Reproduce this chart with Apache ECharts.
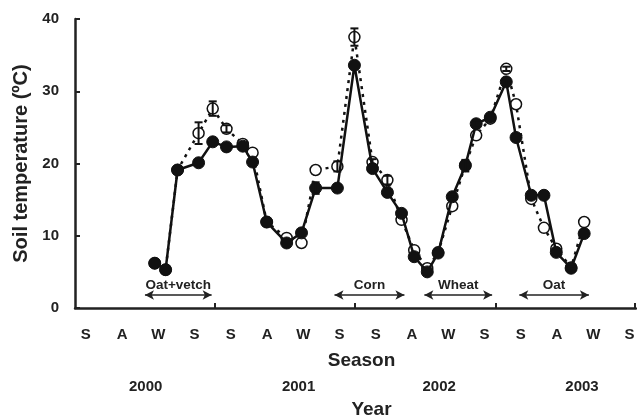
<!DOCTYPE html>
<html>
<head>
<meta charset="utf-8">
<script src="https://cdn.jsdelivr.net/npm/echarts@6/dist/echarts.min.js"></script>
<style>html,body{margin:0;padding:0;background:#fff;}#c{width:637px;height:417px;}</style>
</head>
<body>
<div id="c"></div>
<script>
// Season-label positions (index units) and texts
var seasonPos = [0,1,2,3,4,5,6,7,8,9,10,11,12,13,14,15];
var seasonLabels = ['S','A','W','S','S','A','W','S','S','A','W','S','S','A','W','S'];
var yearPos = [1.65, 5.87, 9.75, 13.69];
var yearLabels = ['2000','2001','2002','2003'];
var yearTickPos = [3.55, 7.41, 11.32, 15.15];

// Sampling positions (in season-index units)
var xPos = [1.90, 2.20, 2.53, 3.11, 3.50, 3.88, 4.33, 4.60, 4.99, 5.54, 5.95, 6.34, 6.94, 7.41, 7.91, 8.32, 8.71, 9.06, 9.42, 9.72, 10.11, 10.47, 10.77, 11.16, 11.60, 11.87, 12.29, 12.64, 12.98, 13.39, 13.75];
// Filled circles (solid line)
var filledVals = [6.2, 5.3, 19.1, 20.1, 23.0, 22.3, 22.4, 20.2, 11.9, 9.0, 10.4, 16.6, 16.6, 33.6, 19.3, 16.0, 13.1, 7.1, 5.0, 7.6, 15.4, 19.7, 25.5, 26.4, 31.3, 23.6, 15.6, 15.6, 7.7, 5.5, 10.3];
var filledErr  = [0, 0, 0, 0, 0, 0, 0, 0, 0, 0, 0, 0.8, 0, 0, 0, 0, 0, 0, 0, 0, 0.3, 0.8, 0.5, 0, 0.5, 0, 0, 0, 0, 0.3, 0];
// Open circles (dashed line)
var openVals = [6.2, 5.3, 19.1, 24.2, 27.6, 24.8, 22.7, 21.5, 11.9, 9.7, 9.0, 19.1, 19.6, 37.5, 20.2, 17.7, 12.2, 8.0, 5.5, 7.7, 14.1, 19.8, 23.9, 26.2, 33.1, 28.2, 15.1, 11.1, 8.2, 5.6, 11.9];
var openErr  = [0, 0, 0, 1.5, 1.0, 0.5, 0, 0, 0, 0, 0, 0, 0.7, 1.2, 0.4, 0.6, 0, 0, 0, 0, 0, 0, 0, 0, 0.3, 0, 0, 0, 0, 0, 0];

// Crop annotations
var crops = ['Oat+vetch', 'Corn', 'Wheat', 'Oat'];
var cropStart = [1.63, 6.86, 9.34, 11.96];
var cropEnd = [3.47, 8.79, 11.21, 13.88];
var cropY = 1.8;

function pairs(xs, ys) { return xs.map(function (x, i) { return [x, ys[i]]; }); }
function errData(xs, ys, es) {
  var out = [];
  xs.forEach(function (x, i) { if (es[i] > 0) out.push([x, ys[i] - es[i], ys[i] + es[i]]); });
  return out;
}
function errRender(params, api) {
  var x = api.value(0);
  var lo = api.coord([x, api.value(1)]);
  var hi = api.coord([x, api.value(2)]);
  var w = 4;
  var st = { stroke: '#111', lineWidth: 2, fill: null };
  return {
    type: 'group',
    children: [
      { type: 'line', shape: { x1: lo[0], y1: lo[1], x2: hi[0], y2: hi[1] }, style: st },
      { type: 'line', shape: { x1: lo[0] - w, y1: lo[1], x2: lo[0] + w, y2: lo[1] }, style: st },
      { type: 'line', shape: { x1: hi[0] - w, y1: hi[1], x2: hi[0] + w, y2: hi[1] }, style: st }
    ]
  };
}

var FONT = 'Liberation Sans, Arial, sans-serif';
var chart = echarts.init(document.getElementById('c'), null, { renderer: 'canvas' });
var markData = crops.map(function (c, i) {
  return [{ coord: [cropStart[i], cropY], name: c }, { coord: [cropEnd[i], cropY] }];
});

chart.setOption({
  animation: false,
  backgroundColor: '#fff',
  grid: { left: 75, right: 1, top: 19, bottom: 109, containLabel: false, outerBoundsMode: 'none' },
  xAxis: [{
    type: 'value', min: -0.3, max: 15.18,
    position: 'bottom',
    name: 'Season', nameLocation: 'middle', nameGap: 43,
    nameTextStyle: { fontFamily: FONT, fontWeight: 'bold', fontSize: 19, color: '#222', padding: [0, 0, 0, 12] },
    axisLine: { show: true, onZero: false, lineStyle: { color: '#222', width: 2.5 } },
    axisTick: { show: true, inside: true, length: 5, lineStyle: { color: '#222', width: 2 }, customValues: yearTickPos },
    splitLine: { show: false },
    axisLabel: {
      customValues: seasonPos, margin: 19,
      fontFamily: FONT, fontWeight: 'bold', fontSize: 15, color: '#222',
      formatter: function (v) { var i = seasonPos.indexOf(v); return i >= 0 ? seasonLabels[i] : ''; }
    }
  }, {
    type: 'value', min: -0.3, max: 15.18,
    position: 'bottom', offset: 63,
    name: 'Year', nameLocation: 'middle', nameGap: 29,
    nameTextStyle: { fontFamily: FONT, fontWeight: 'bold', fontSize: 19, color: '#222', padding: [0, 0, 0, 32] },
    axisLine: { show: false },
    axisTick: { show: false },
    splitLine: { show: false },
    axisLabel: {
      customValues: yearPos, margin: 8,
      fontFamily: FONT, fontWeight: 'bold', fontSize: 15, color: '#222',
      formatter: function (v) { var i = yearPos.indexOf(v); return i >= 0 ? yearLabels[i] : ''; }
    }
  }],
  yAxis: {
    type: 'value', min: 0, max: 40, interval: 10,
    name: 'Soil temperature (ºC)', nameLocation: 'middle', nameGap: 43,
    nameTextStyle: { fontFamily: FONT, fontWeight: 'bold', fontSize: 20, color: '#222' },
    axisLine: { show: true, onZero: false, lineStyle: { color: '#222', width: 2.5 } },
    axisTick: { show: true, inside: true, length: 5, lineStyle: { color: '#222', width: 2 } },
    splitLine: { show: false },
    axisLabel: { fontFamily: FONT, fontWeight: 'bold', fontSize: 15, color: '#222', margin: 16 }
  },
  series: [{
    name: 'open', type: 'line', data: pairs(xPos, openVals),
    symbol: 'circle', symbolSize: 11,
    itemStyle: { color: '#fff', borderColor: '#111', borderWidth: 1.5 },
    lineStyle: { color: '#111', width: 2.5, type: [3, 5] },
    z: 2
  }, {
    name: 'filled', type: 'line', data: pairs(xPos, filledVals),
    symbol: 'circle', symbolSize: 12,
    itemStyle: { color: '#111', borderColor: '#111', borderWidth: 1 },
    lineStyle: { color: '#111', width: 2.5 },
    z: 3,
    markLine: {
      silent: true, symbol: ['arrow', 'arrow'], symbolSize: [7, 9],
      lineStyle: { color: '#222', width: 1.5, type: 'solid' },
      label: { show: true, position: 'insideMiddleTop', distance: 3, formatter: '{b}', fontFamily: FONT, fontSize: 13.5, fontWeight: 'bold', color: '#222' },
      data: markData
    }
  }, {
    type: 'custom', renderItem: errRender, data: errData(xPos, openVals, openErr), z: 4, silent: true
  }, {
    type: 'custom', renderItem: errRender, data: errData(xPos, filledVals, filledErr), z: 4, silent: true
  }]
});
</script>
</body>
</html>
